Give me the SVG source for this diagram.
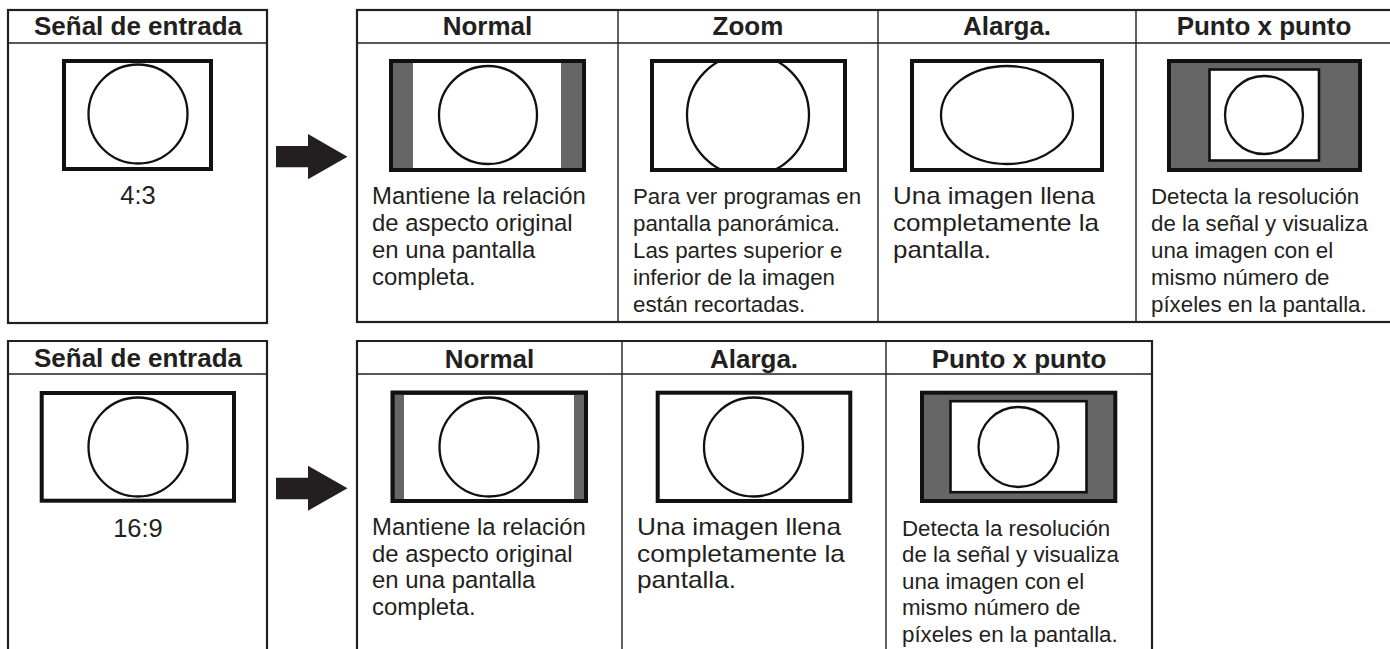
<svg xmlns="http://www.w3.org/2000/svg" width="1390" height="649" viewBox="0 0 1390 649">
<style>
  text { font-family: "Liberation Sans", Arial, sans-serif; fill: #231f20; }
  .hd { font-weight: bold; font-size: 26px; text-anchor: middle; }
  .frame { fill: none; stroke: #231f20; stroke-width: 2.2; }
  .hline { stroke: #231f20; stroke-width: 1.4; }
  .vline { stroke: #231f20; stroke-width: 1.4; }
  .scr { fill: #fff; stroke: #111; stroke-width: 4; }
  .scrg { fill: #666; stroke: #111; stroke-width: 4; }
  .inner { fill: #fff; stroke: #111; stroke-width: 2.6; }
  .bar { fill: #666; }
  .circ { fill: none; stroke: #111; stroke-width: 2.3; }
  .ratio { font-size: 25.5px; text-anchor: middle; }
  .dN { font-size: 23.9px; }
  .dZ { font-size: 22.3px; }
  .dA { font-size: 24px; }
  .dP { font-size: 22.3px; }
  .arrow { fill: #231f20; }
</style>
<defs>
  <clipPath id="zoomclip"><rect x="652" y="61" width="193" height="109"/></clipPath>
</defs>
<rect width="1390" height="649" fill="#fff"/>

<!-- Row 1 -->
<g id="input-43">
  <rect class="frame" x="8" y="10" width="259" height="313"/>
  <line class="hline" x1="8" y1="43" x2="267" y2="43"/>
  <text class="hd" x="138" y="35">Señal de entrada</text>
  <rect class="scr" x="64" y="61" width="147" height="108"/>
  <circle class="circ" cx="138" cy="114" r="49.5"/>
  <text class="ratio" x="138" y="204">4:3</text>
</g>

<g id="table-43">
  <rect class="frame" x="357" y="10" width="1040" height="312"/>
  <line class="hline" x1="357" y1="43" x2="1397" y2="43"/>
  <line class="vline" x1="618" y1="10" x2="618" y2="322"/>
  <line class="vline" x1="878" y1="10" x2="878" y2="322"/>
  <line class="vline" x1="1136" y1="10" x2="1136" y2="322"/>
</g>

<g id="normal-43">
  <text class="hd" x="487.5" y="35">Normal</text>
  <rect class="scr" x="391" y="61" width="193" height="109"/>
  <rect class="bar" x="391" y="61" width="22" height="109"/>
  <rect class="bar" x="561" y="61" width="23" height="109"/>
  <rect x="391" y="61" width="193" height="109" fill="none" stroke="#111" stroke-width="4"/>
  <circle class="circ" cx="488" cy="115" r="49"/>
  <text class="dN" x="372" y="204">Mantiene la relación</text>
  <text class="dN" x="372" y="231">de aspecto original</text>
  <text class="dN" x="372" y="258">en una pantalla</text>
  <text class="dN" x="372" y="285">completa.</text>
</g>

<g id="zoom-43">
  <text class="hd" x="748" y="35">Zoom</text>
  <rect class="scr" x="652" y="61" width="193" height="109"/>
  <circle class="circ" cx="748" cy="115" r="61" clip-path="url(#zoomclip)"/>
  <rect x="652" y="61" width="193" height="109" fill="none" stroke="#111" stroke-width="4"/>
  <text class="dZ" x="633" y="204">Para ver programas en</text>
  <text class="dZ" x="633" y="231">pantalla panorámica.</text>
  <text class="dZ" x="633" y="258">Las partes superior e</text>
  <text class="dZ" x="633" y="285">inferior de la imagen</text>
  <text class="dZ" x="633" y="311.5">están recortadas.</text>
</g>

<g id="alarga-43">
  <text class="hd" x="1007" y="35">Alarga.</text>
  <rect class="scr" x="912" y="61" width="190" height="109"/>
  <ellipse class="circ" cx="1007" cy="115" rx="66" ry="49"/>
  <text class="dA" x="893" y="204" textLength="202" lengthAdjust="spacingAndGlyphs">Una imagen llena</text>
  <text class="dA" x="893" y="231" textLength="206" lengthAdjust="spacingAndGlyphs">completamente la</text>
  <text class="dA" x="893" y="258" textLength="98" lengthAdjust="spacingAndGlyphs">pantalla.</text>
</g>

<g id="punto-43">
  <text class="hd" x="1264" y="35">Punto x punto</text>
  <rect class="scrg" x="1169" y="61" width="191" height="109"/>
  <rect class="inner" x="1209.5" y="69.5" width="109.5" height="91"/>
  <circle class="circ" cx="1264" cy="115" r="39"/>
  <text class="dP" x="1151" y="204">Detecta la resolución</text>
  <text class="dP" x="1151" y="231">de la señal y visualiza</text>
  <text class="dP" x="1151" y="258">una imagen con el</text>
  <text class="dP" x="1151" y="284.5">mismo número de</text>
  <text class="dP" x="1151" y="311.5">píxeles en la pantalla.</text>
</g>

<!-- Row 2 -->
<g id="input-169">
  <path class="frame" d="M8,660 V341 H267 V660"/>
  <line class="hline" x1="8" y1="374" x2="267" y2="374"/>
  <text class="hd" x="138" y="366.5">Señal de entrada</text>
  <rect class="scr" x="41.7" y="393" width="192.3" height="107.7"/>
  <circle class="circ" cx="138" cy="447" r="49.5"/>
  <text class="ratio" x="138" y="537">16:9</text>
</g>

<g id="table-169">
  <path class="frame" d="M357,660 V341 H1152 V660"/>
  <line class="hline" x1="357" y1="374" x2="1152" y2="374"/>
  <line class="vline" x1="622" y1="341" x2="622" y2="660"/>
  <line class="vline" x1="886" y1="341" x2="886" y2="660"/>
</g>

<g id="normal-169">
  <text class="hd" x="489.5" y="367.5">Normal</text>
  <rect class="scr" x="392.7" y="392.7" width="193.3" height="108.3"/>
  <rect class="bar" x="392.7" y="392.7" width="11.3" height="108.3"/>
  <rect class="bar" x="574" y="392.7" width="12" height="108.3"/>
  <rect x="392.7" y="392.7" width="193.3" height="108.3" fill="none" stroke="#111" stroke-width="4"/>
  <circle class="circ" cx="489" cy="447" r="49.5"/>
  <text class="dN" x="372" y="535">Mantiene la relación</text>
  <text class="dN" x="372" y="561.7">de aspecto original</text>
  <text class="dN" x="372" y="588.3">en una pantalla</text>
  <text class="dN" x="372" y="615">completa.</text>
</g>

<g id="alarga-169">
  <text class="hd" x="754" y="367.5">Alarga.</text>
  <rect class="scr" x="657.7" y="392.7" width="192.6" height="108.3"/>
  <circle class="circ" cx="753.5" cy="447" r="49.5"/>
  <text class="dA" x="637" y="535" textLength="204" lengthAdjust="spacingAndGlyphs">Una imagen llena</text>
  <text class="dA" x="637" y="561.7" textLength="208" lengthAdjust="spacingAndGlyphs">completamente la</text>
  <text class="dA" x="637" y="588.3" textLength="99" lengthAdjust="spacingAndGlyphs">pantalla.</text>
</g>

<g id="punto-169">
  <text class="hd" x="1019" y="367.5">Punto x punto</text>
  <rect class="scrg" x="922" y="392.7" width="193.3" height="108.3"/>
  <rect class="inner" x="950.5" y="401.2" width="136" height="91"/>
  <circle class="circ" cx="1018.5" cy="447" r="40"/>
  <text class="dP" x="902" y="536">Detecta la resolución</text>
  <text class="dP" x="902" y="562">de la señal y visualiza</text>
  <text class="dP" x="902" y="588.5">una imagen con el</text>
  <text class="dP" x="902" y="615">mismo número de</text>
  <text class="dP" x="902" y="641.5">píxeles en la pantalla.</text>
</g>

<!-- Connectors -->
<g id="connectors">
  <polygon class="arrow" points="276,146 308,146 308,134 347.5,156.7 308,179.3 308,167.3 276,167.3"/>
  <polygon class="arrow" points="276,477.7 308,477.7 308,465.7 347.5,488.3 308,510.7 308,499.3 276,499.3"/>
</g>
</svg>
